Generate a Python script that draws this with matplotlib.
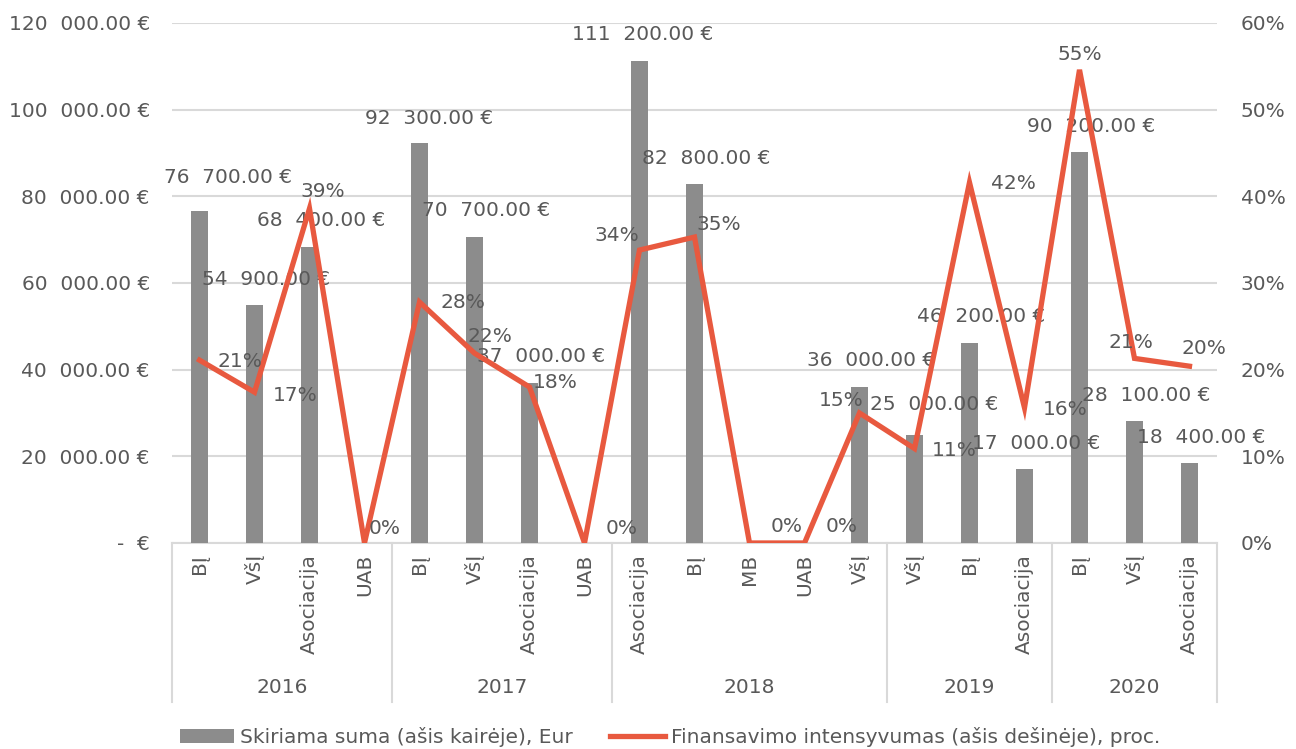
import matplotlib
matplotlib.use("Agg")
import matplotlib.pyplot as plt
import matplotlib.transforms as mtransforms
from matplotlib.ticker import FuncFormatter
from matplotlib.patches import Patch
from matplotlib.lines import Line2D

# ---- data ----
years = ["2016", "2017", "2018", "2019", "2020"]
year_sizes = [4, 4, 5, 3, 3]
categories = ["BĮ", "VšĮ", "Asociacija", "UAB",
              "BĮ", "VšĮ", "Asociacija", "UAB",
              "Asociacija", "BĮ", "MB", "UAB", "VšĮ",
              "VšĮ", "BĮ", "Asociacija",
              "BĮ", "VšĮ", "Asociacija"]
amounts = [76700, 54900, 68400, 0,
           92300, 70700, 37000, 0,
           111200, 82800, 0, 0, 36000,
           25000, 46200, 17000,
           90200, 28100, 18400]
intensity = [21.1, 17.4, 38.6, 0,
             27.8, 21.9, 18.0, 0,
             33.8, 35.3, 0, 0, 15.0,
             10.9, 41.6, 15.6,
             54.6, 21.3, 20.4]

TEXT = "#595959"
BAR = "#8c8c8c"
LINE = "#e8593f"
GRID = "#d9d9d9"
FS = 14.5

plt.rcParams["font.family"] = ["DejaVu Sans"]


def eur(v, pos=None):
    if v == 0:
        return "-  €"
    s = f"{v:,.2f}".replace(",", "  ")
    return s + " €"


fig = plt.figure(figsize=(12.96, 7.49), dpi=100)
ax = fig.add_axes([172 / 1296, 1 - 543 / 749, (1217 - 172) / 1296, 520 / 749])
ax2 = ax.twinx()

x = list(range(len(categories)))
ax.bar(x, amounts, width=0.31, color=BAR, zorder=2)
ax2.plot(x, intensity, color=LINE, lw=3.8, solid_joinstyle="miter", zorder=3)

ax.set_xlim(-0.5, len(categories) - 0.5)
ax.set_ylim(0, 120000)
ax2.set_ylim(0, 60)
ax.set_yticks(range(0, 120001, 20000))
ax2.set_yticks(range(0, 61, 10))
ax.yaxis.set_major_formatter(FuncFormatter(eur))
ax2.yaxis.set_major_formatter(FuncFormatter(lambda v, p: f"{v:.0f}%"))
ax.grid(axis="y", color=GRID, lw=1.5, zorder=0)
ax.set_axisbelow(True)

for a in (ax, ax2):
    for s in ("left", "right", "top", "bottom"):
        a.spines[s].set_visible(False)
ax.axhline(0, color=GRID, lw=1.5, zorder=1, clip_on=False)

ax.tick_params(axis="y", length=0, pad=16, labelsize=FS, labelcolor=TEXT)
ax2.tick_params(axis="y", length=0, pad=17, labelsize=FS, labelcolor=TEXT)
ax.set_xticks(x)
ax.set_xticklabels(categories, rotation=90, va="top", ha="center")
ax.tick_params(axis="x", length=0, pad=8, labelsize=FS, labelcolor=TEXT)

# multi-level category axis: year separators and year labels
trans = mtransforms.blended_transform_factory(ax.transData, ax.transAxes)
bounds = [-0.5]
for n in year_sizes:
    bounds.append(bounds[-1] + n)
for b in bounds:
    ax.plot([b, b], [0, -0.306], transform=trans, color=GRID, lw=1.5,
            clip_on=False)
for i, yr in enumerate(years):
    ax.text((bounds[i] + bounds[i + 1]) / 2, -0.277, yr, transform=trans,
            ha="center", va="center", fontsize=FS, color=TEXT)

# bar value labels (offsets in pixels from bar top)
bar_off = {0: (29, 33), 4: (10, 25), 8: (3, 27), 13: (20, 30)}
for i, v in enumerate(amounts):
    if v == 0:
        continue
    dx, dy = bar_off.get(i, (12, 26))
    ax.annotate(eur(v), (i, v), xytext=(dx, dy), textcoords="offset pixels",
                ha="center", va="center", fontsize=FS, color=TEXT, zorder=5)

# percentage labels (offsets in pixels from point)
pct_off = [(40, -1), (41, -3), (13, 17), (20, 15),
           (43, 0), (15, 17), (26, 4), (37, 15),
           (-23, 15), (24, 13), (37, 16), (37, 16), (-18, 12),
           (40, -2), (44, -1), (41, -2),
           (0, 15), (-4, 16), (14, 18)]
for i, v in enumerate(intensity):
    dx, dy = pct_off[i]
    ax2.annotate(f"{int(v + 0.5)}%", (i, v), xytext=(dx, dy),
                 textcoords="offset pixels", ha="center", va="center",
                 fontsize=FS, color=TEXT, zorder=6)

handles = [Patch(facecolor=BAR, edgecolor="none"),
           Line2D([0], [0], color=LINE, lw=3.8)]
labels = ["Skiriama suma (ašis kairėje), Eur",
          "Finansavimo intensyvumas (ašis dešinėje), proc."]
fig.legend(handles, labels, loc="lower center", bbox_to_anchor=(0.517, -0.022),
           ncol=2, frameon=False, fontsize=FS, labelcolor=TEXT,
           handlelength=2.7, handleheight=0.7, handletextpad=0.3,
           columnspacing=1.85)

fig.savefig("out.png", dpi=100)
